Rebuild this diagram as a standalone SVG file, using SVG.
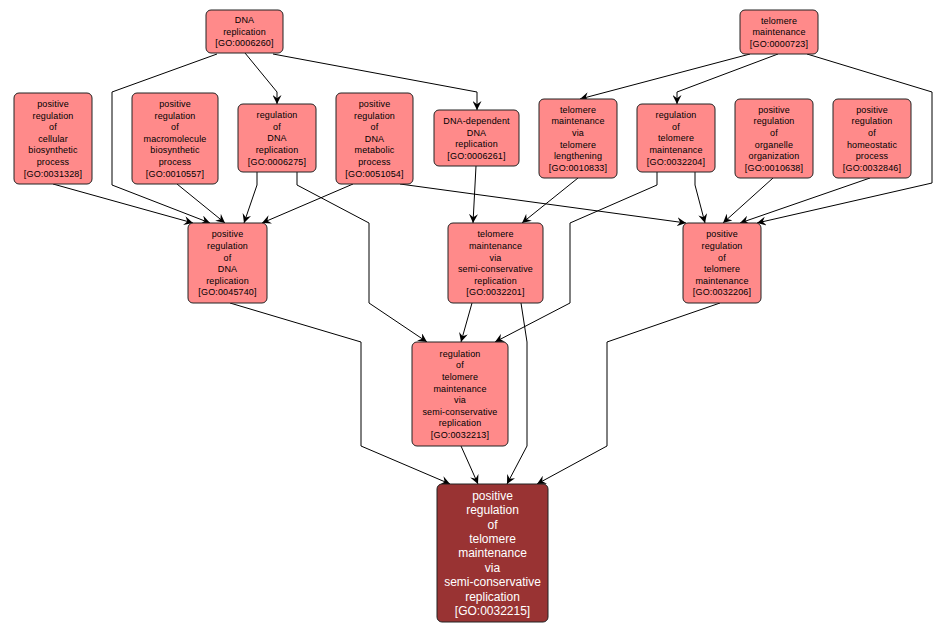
<svg xmlns="http://www.w3.org/2000/svg" width="947" height="632" viewBox="0 0 947 632">
<defs>
<marker id="arr" viewBox="0 0 10 10" refX="10" refY="5" markerWidth="9" markerHeight="9" markerUnits="userSpaceOnUse" orient="auto">
<path d="M0,0 L10,5 L0,10 L3.5,5 z" fill="#000"/>
</marker>
<style>
.n rect{fill:#ff8a8a;stroke:#222;stroke-width:1}
.n text{font-family:"Liberation Sans",Arial,sans-serif;font-size:9px;fill:#000;text-anchor:middle;letter-spacing:0.15px}
.d rect{fill:#993333;stroke:#222;stroke-width:1}
.d text{font-family:"Liberation Sans",Arial,sans-serif;font-size:12px;fill:#fff;text-anchor:middle}
.e polyline{fill:none;stroke:#000;stroke-width:1;marker-end:url(#arr)}
</style>
</defs>
<rect width="947" height="632" fill="#fff"/>
<g id="edges" class="e">
<polyline points="245,53 277,92 277,104"/>
<polyline points="273,54 477,92 477,110"/>
<polyline points="217,54 112,92 112,185 210,223"/>
<polyline points="750,54 580,99"/>
<polyline points="778,54 677,92 677,104"/>
<polyline points="807,54 932,92 932,183 757,223"/>
<polyline points="53,184 193,223"/>
<polyline points="177,184 225,223"/>
<polyline points="257,172 257,185 244,223"/>
<polyline points="297,172 297,185 369,223 369,303 427,342"/>
<polyline points="353,184 262,223"/>
<polyline points="400,184 686,223"/>
<polyline points="476,166 473,223"/>
<polyline points="578,178 522,223"/>
<polyline points="657,172 657,185 570,223 570,303 495,342"/>
<polyline points="695,172 695,185 705,223"/>
<polyline points="773,178 723,223"/>
<polyline points="870,178 740,223"/>
<polyline points="230,303 361,342 361,446 450,484"/>
<polyline points="472,303 461,342"/>
<polyline points="521,303 527,342 527,446 507,484"/>
<polyline points="461,446 478,484"/>
<polyline points="720,303 607,342 607,446 537,484"/>
</g>
<g id="GO0006260" class="n"><rect x="206" y="10" width="77" height="43" rx="5"/>
<text><tspan x="244.5" y="23.2">DNA</tspan><tspan x="244.5" y="34.8">replication</tspan><tspan x="244.5" y="46.4">[GO:0006260]</tspan></text></g>
<g id="GO0000723" class="n"><rect x="740" y="10" width="78" height="44" rx="5"/>
<text><tspan x="779" y="23.7">telomere</tspan><tspan x="779" y="35.3">maintenance</tspan><tspan x="779" y="46.9">[GO:0000723]</tspan></text></g>
<g id="GO0031328" class="n"><rect x="14" y="93" width="78" height="91" rx="5"/>
<text><tspan x="53" y="107">positive</tspan><tspan x="53" y="118.6">regulation</tspan><tspan x="53" y="130.2">of</tspan><tspan x="53" y="141.8">cellular</tspan><tspan x="53" y="153.4">biosynthetic</tspan><tspan x="53" y="165">process</tspan><tspan x="53" y="176.6">[GO:0031328]</tspan></text></g>
<g id="GO0010557" class="n"><rect x="132" y="93" width="86" height="91" rx="5"/>
<text><tspan x="175" y="107">positive</tspan><tspan x="175" y="118.6">regulation</tspan><tspan x="175" y="130.2">of</tspan><tspan x="175" y="141.8">macromolecule</tspan><tspan x="175" y="153.4">biosynthetic</tspan><tspan x="175" y="165">process</tspan><tspan x="175" y="176.6">[GO:0010557]</tspan></text></g>
<g id="GO0006275" class="n"><rect x="238" y="104" width="78" height="68" rx="5"/>
<text><tspan x="277" y="118.1">regulation</tspan><tspan x="277" y="129.7">of</tspan><tspan x="277" y="141.3">DNA</tspan><tspan x="277" y="152.9">replication</tspan><tspan x="277" y="164.5">[GO:0006275]</tspan></text></g>
<g id="GO0051054" class="n"><rect x="336" y="93" width="77" height="91" rx="5"/>
<text><tspan x="374.5" y="107">positive</tspan><tspan x="374.5" y="118.6">regulation</tspan><tspan x="374.5" y="130.2">of</tspan><tspan x="374.5" y="141.8">DNA</tspan><tspan x="374.5" y="153.4">metabolic</tspan><tspan x="374.5" y="165">process</tspan><tspan x="374.5" y="176.6">[GO:0051054]</tspan></text></g>
<g id="GO0006261" class="n"><rect x="434" y="110" width="85" height="56" rx="5"/>
<text><tspan x="476.5" y="123.9">DNA-dependent</tspan><tspan x="476.5" y="135.5">DNA</tspan><tspan x="476.5" y="147.1">replication</tspan><tspan x="476.5" y="158.7">[GO:0006261]</tspan></text></g>
<g id="GO0010833" class="n"><rect x="539" y="99" width="78" height="79" rx="5"/>
<text><tspan x="578" y="112.8">telomere</tspan><tspan x="578" y="124.4">maintenance</tspan><tspan x="578" y="136">via</tspan><tspan x="578" y="147.6">telomere</tspan><tspan x="578" y="159.2">lengthening</tspan><tspan x="578" y="170.8">[GO:0010833]</tspan></text></g>
<g id="GO0032204" class="n"><rect x="637" y="104" width="78" height="68" rx="5"/>
<text><tspan x="676" y="118.1">regulation</tspan><tspan x="676" y="129.7">of</tspan><tspan x="676" y="141.3">telomere</tspan><tspan x="676" y="152.9">maintenance</tspan><tspan x="676" y="164.5">[GO:0032204]</tspan></text></g>
<g id="GO0010638" class="n"><rect x="735" y="99" width="78" height="79" rx="5"/>
<text><tspan x="774" y="112.8">positive</tspan><tspan x="774" y="124.4">regulation</tspan><tspan x="774" y="136">of</tspan><tspan x="774" y="147.6">organelle</tspan><tspan x="774" y="159.2">organization</tspan><tspan x="774" y="170.8">[GO:0010638]</tspan></text></g>
<g id="GO0032846" class="n"><rect x="833" y="99" width="78" height="79" rx="5"/>
<text><tspan x="872" y="112.8">positive</tspan><tspan x="872" y="124.4">regulation</tspan><tspan x="872" y="136">of</tspan><tspan x="872" y="147.6">homeostatic</tspan><tspan x="872" y="159.2">process</tspan><tspan x="872" y="170.8">[GO:0032846]</tspan></text></g>
<g id="GO0045740" class="n"><rect x="188" y="223" width="79" height="80" rx="5"/>
<text><tspan x="227.5" y="237.3">positive</tspan><tspan x="227.5" y="248.9">regulation</tspan><tspan x="227.5" y="260.5">of</tspan><tspan x="227.5" y="272.1">DNA</tspan><tspan x="227.5" y="283.7">replication</tspan><tspan x="227.5" y="295.3">[GO:0045740]</tspan></text></g>
<g id="GO0032201" class="n"><rect x="448" y="223" width="95" height="80" rx="5"/>
<text><tspan x="495.5" y="237.3">telomere</tspan><tspan x="495.5" y="248.9">maintenance</tspan><tspan x="495.5" y="260.5">via</tspan><tspan x="495.5" y="272.1">semi-conservative</tspan><tspan x="495.5" y="283.7">replication</tspan><tspan x="495.5" y="295.3">[GO:0032201]</tspan></text></g>
<g id="GO0032206" class="n"><rect x="683" y="223" width="78" height="80" rx="5"/>
<text><tspan x="722" y="237.3">positive</tspan><tspan x="722" y="248.9">regulation</tspan><tspan x="722" y="260.5">of</tspan><tspan x="722" y="272.1">telomere</tspan><tspan x="722" y="283.7">maintenance</tspan><tspan x="722" y="295.3">[GO:0032206]</tspan></text></g>
<g id="GO0032213" class="n"><rect x="412" y="342" width="96" height="104" rx="5"/>
<text><tspan x="460" y="356.7">regulation</tspan><tspan x="460" y="368.3">of</tspan><tspan x="460" y="379.9">telomere</tspan><tspan x="460" y="391.5">maintenance</tspan><tspan x="460" y="403.1">via</tspan><tspan x="460" y="414.7">semi-conservative</tspan><tspan x="460" y="426.3">replication</tspan><tspan x="460" y="437.9">[GO:0032213]</tspan></text></g>
<g id="GO0032215" class="d"><rect x="437" y="484" width="111" height="138" rx="5"/>
<text><tspan x="492.5" y="499.7">positive</tspan><tspan x="492.5" y="514.1">regulation</tspan><tspan x="492.5" y="528.5">of</tspan><tspan x="492.5" y="542.9">telomere</tspan><tspan x="492.5" y="557.3">maintenance</tspan><tspan x="492.5" y="571.7">via</tspan><tspan x="492.5" y="586.1">semi-conservative</tspan><tspan x="492.5" y="600.5">replication</tspan><tspan x="492.5" y="614.9">[GO:0032215]</tspan></text></g>
</svg>
